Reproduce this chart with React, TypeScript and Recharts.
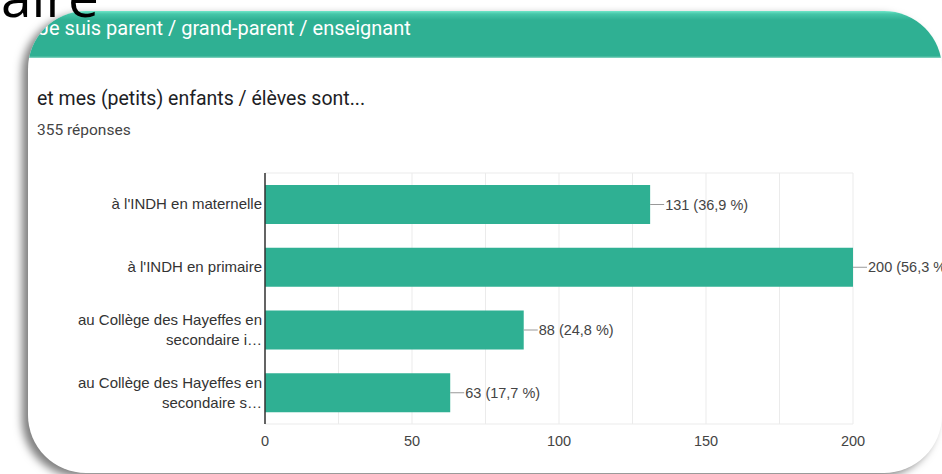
import React from 'react'
import { BarChart, Bar, XAxis, YAxis, CartesianGrid, LabelList } from 'recharts'

const categories = [
  "à l'INDH en maternelle",
  "à l'INDH en primaire",
  'au Collège des Hayeffes en secondaire i…',
  'au Collège des Hayeffes en secondaire s…',
]
const counts = [131, 200, 88, 63]
const totalResponses = 355
const xTicks = [0, 25, 50, 75, 100, 125, 150, 175, 200]

const sectionTitle = 'Je suis parent / grand-parent / enseignant'
const question = 'et mes (petits) enfants / élèves sont...'
const responsesLabel = `${totalResponses} réponses`

const data = categories.map((name, i) => ({ name, value: counts[i] }))

const TEAL = '#2fb093'
const chartFont = '"Liberation Sans", Arial, sans-serif'

// wrap long labels the way the forms chart does (two lines max)
function wrap(text: string, max = 26) {
  const words = text.split(' ')
  const lines: string[] = []
  let cur = ''
  for (const w of words) {
    const next = cur ? cur + ' ' + w : w
    if (next.length > max && cur) {
      lines.push(cur)
      cur = w
    } else {
      cur = next
    }
  }
  if (cur) lines.push(cur)
  return lines
}

function CategoryTick(props: any) {
  const { x, y, payload } = props
  const lines = wrap(payload.value)
  const lh = 20
  const start = -((lines.length - 1) * lh) / 2
  return (
    <text x={x} y={y} textAnchor="end" fill="#333" fontSize={15} fontFamily={chartFont}>
      {lines.map((l, i) => (
        <tspan key={i} x={x} y={y + start + i * lh + 5}>
          {l}
        </tspan>
      ))}
    </text>
  )
}

function ValueLabel(props: any) {
  const { x, y, width, height, value } = props
  const end = x + width
  const cy = y + height / 2
  const pct = ((value / totalResponses) * 100).toFixed(1).replace('.', ',')
  return (
    <g>
      <line x1={end} y1={cy} x2={end + 14} y2={cy} stroke="#999" strokeWidth={1} />
      <text x={end + 15} y={cy + 5} fill="#444" fontSize={14.5} fontFamily={chartFont}>
        {`${value} (${pct} %)`}
      </text>
    </g>
  )
}

export default function App() {
  return (
    <div
      style={{
        position: 'fixed',
        left: 0,
        top: 0,
        width: 942,
        height: 474,
        overflow: 'hidden',
        background: '#fff',
      }}
    >
      {/* card */}
      <div
        style={{
          position: 'absolute',
          left: 28,
          top: 11,
          width: 914,
          height: 462,
          borderRadius: 58,
          background: '#fff',
          boxShadow: '-6px 4px 8px rgba(0,0,0,0.5)',
          overflow: 'hidden',
        }}
      >
        <div
          style={{
            height: 47,
            background: `linear-gradient(to bottom, #6fe6c9 0px, #45c6a8 3px, ${TEAL} 9px, ${TEAL} 45px, #8fd8c6 47px)`,
            color: '#fff',
            fontFamily: 'Roboto, sans-serif',
            fontSize: 20,
            lineHeight: '34px',
            paddingLeft: 10,
            boxSizing: 'border-box',
          }}
        >
          {sectionTitle}
        </div>
        <div
          style={{
            position: 'absolute',
            left: 9,
            top: 76,
            fontFamily: 'Roboto, sans-serif',
            fontSize: 19.5,
            color: '#202124',
          }}
        >
          {question}
        </div>
        <div
          style={{
            position: 'absolute',
            left: 9,
            top: 110,
            fontFamily: 'Roboto, sans-serif',
            fontSize: 15.5,
            color: '#444',
          }}
        >
          {responsesLabel}
        </div>
      </div>

      {/* chart */}
      <div style={{ position: 'absolute', left: 0, top: 0 }}>
        <BarChart
          width={942}
          height={474}
          data={data}
          layout="vertical"
          margin={{ top: 173, right: 89, bottom: 20, left: 0 }}
        >
          <CartesianGrid
            stroke="#ebebeb"
            horizontalCoordinatesGenerator={({ offset }: any) => [offset.top, offset.top + offset.height]}
          />
          <XAxis
            type="number"
            domain={[0, 200]}
            ticks={xTicks}
            tickFormatter={(v: number) => (v % 50 === 0 ? String(v) : '')}
            axisLine={false}
            tickLine={false}
            tickSize={0}
            tickMargin={12}
            height={30}
            tick={{ fill: '#444', fontSize: 14.5, fontFamily: chartFont }}
          />
          <YAxis
            type="category"
            dataKey="name"
            width={265}
            axisLine={{ stroke: '#333', strokeWidth: 1.5 }}
            tickLine={false}
            tickSize={0}
            tickMargin={3}
            tick={<CategoryTick />}
            interval={0}
          />
          <Bar dataKey="value" fill={TEAL} barSize={39} isAnimationActive={false}>
            <LabelList dataKey="value" content={<ValueLabel />} />
          </Bar>
        </BarChart>
      </div>

      {/* big heading fragment from the slide behind */}
      <svg width={140} height={40} style={{ position: 'absolute', left: 0, top: 0 }}>
        <text x={1} y={17} fontFamily='"Open Sans", sans-serif' fontSize={55} fill="#000">
          aire
        </text>
      </svg>
    </div>
  )
}
